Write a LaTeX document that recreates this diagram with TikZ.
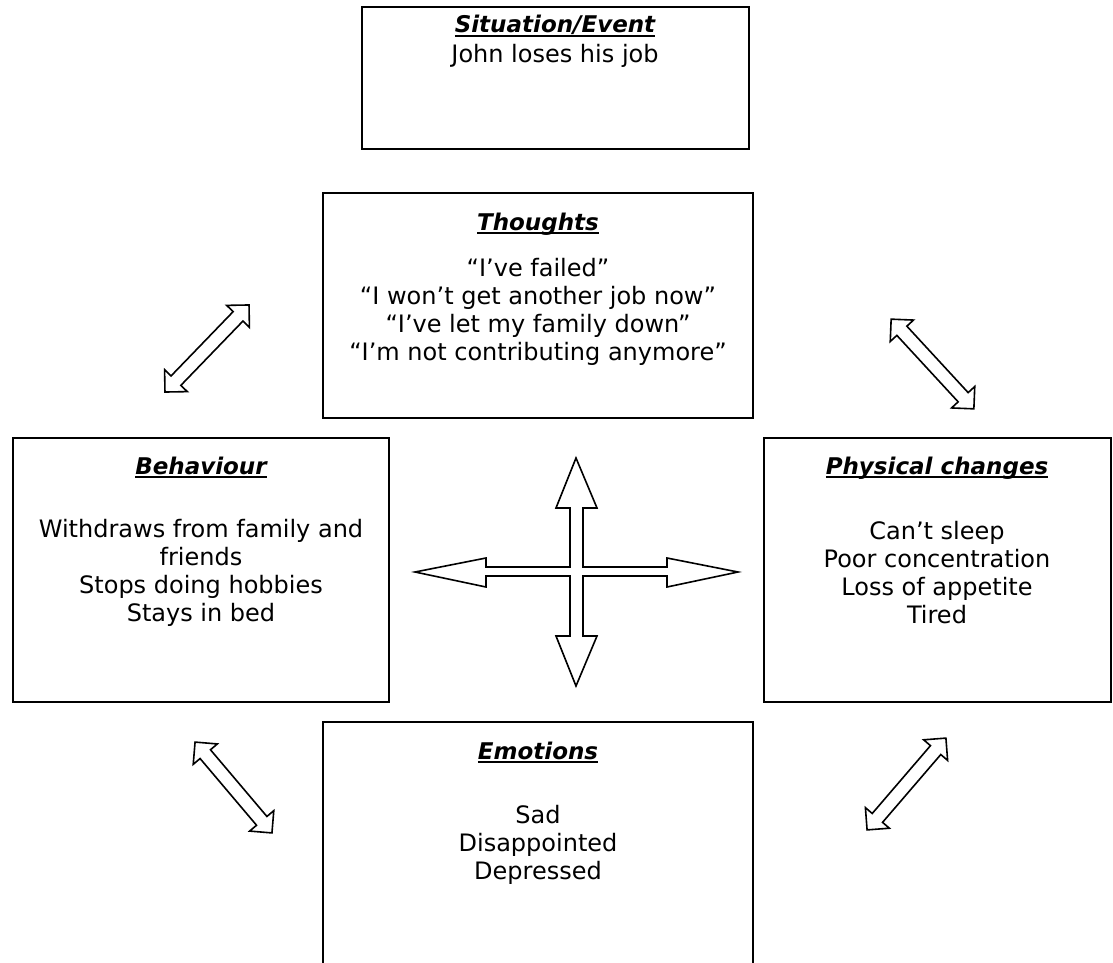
\documentclass[tikz,border=0pt]{standalone}
\usepackage{fontspec}
\setmainfont{DejaVu Sans}
\usetikzlibrary{positioning,shapes.arrows}

\newcommand{\ulhead}[1]{\setbox0=\hbox{#1}\rlap{\rule[-4pt]{\wd0}{1.8pt}}\box0}

\tikzset{
  panel/.style={draw, line width=1.8pt, inner sep=0pt, outer sep=0pt, anchor=north west},
  heading/.style={font=\fontsize{23}{27}\selectfont\bfseries\itshape, anchor=base},
  body/.style={font=\fontsize{24}{28}\selectfont, align=center},
  twoway/.style={double arrow, draw, line width=1.6pt, fill=white, inner sep=6pt,
    double arrow head extend=9pt, minimum height=#1, sloped}
}

\begin{document}
\begin{tikzpicture}[x=1pt,y=-1pt]
\clip (0,0) rectangle (1113,963);
\fill[white] (0,0) rectangle (1113,963);

% boxes
\node[panel, minimum width=387pt, minimum height=142pt] (sit) at (362,7) {};
\node[panel, minimum width=430pt, minimum height=225pt] (thoughts) at (323,193) {};
\node[panel, minimum width=376pt, minimum height=264pt] (behaviour) at (13,438) {};
\node[panel, minimum width=347pt, minimum height=264pt] (physical) at (764,438) {};
\node[panel, minimum width=430pt, minimum height=270pt] (emotions) at (323,722) {};

% texts
\node[heading] (sithead) at (555,33) {\ulhead{Situation/Event}};
\node[body] (sittext) at (555,56) {John loses his job};
\node[heading] (thhead) at (538,230) {\ulhead{Thoughts}};
\node[body] (thtext) at (538,312) {“I've failed”\\“I won't get another job now”\\“I've let my family down”\\“I'm not contributing anymore”};
\node[heading] (behhead) at (201,474) {\ulhead{Behaviour}};
\node[body] (behtext) at (201,573) {Withdraws from family and\\friends\\Stops doing hobbies\\Stays in bed};
\node[heading] (phyhead) at (937,474) {\ulhead{Physical changes}};
\node[body] (phytext) at (937,573) {Can't sleep\\Poor concentration\\Loss of appetite\\Tired};
\node[heading] (emohead) at (538,759) {\ulhead{Emotions}};
\node[body] (emotext) at (538,845) {Sad\\Disappointed\\Depressed};

% centre cross
\draw[line width=1.6pt, fill=white] (576,458) -- (597,508) -- (583,508) -- (583,567) -- (667,567) -- (667,558) -- (738,572) -- (667,587) -- (667,576) -- (583,576) -- (583,636) -- (597,636) -- (576,686) -- (556,636) -- (570,636) -- (570,576) -- (486,576) -- (486,587) -- (415,572) -- (486,558) -- (486,567) -- (570,567) -- (570,508) -- (556,508) -- cycle;

% two-way arrows
\coordinate (tb1) at (165,392);
\coordinate (tb2) at (249,305);
\coordinate (tp1) at (891,319);
\coordinate (tp2) at (974,409);
\coordinate (be1) at (195,742);
\coordinate (be2) at (272,833);
\coordinate (pe1) at (867,830);
\coordinate (pe2) at (946,738);
\path (tb1) -- node[twoway=121pt] (tbarrow) {} (tb2);
\path (tp1) -- node[twoway=122pt] (tparrow) {} (tp2);
\path (be1) -- node[twoway=119pt] (bearrow) {} (be2);
\path (pe1) -- node[twoway=121pt] (pearrow) {} (pe2);
\end{tikzpicture}
\end{document}
